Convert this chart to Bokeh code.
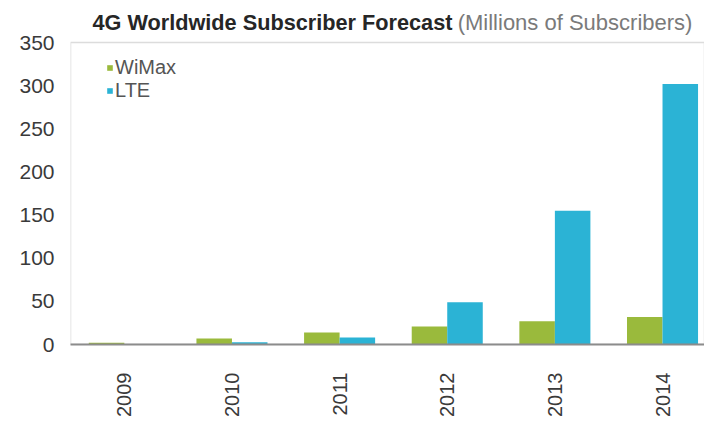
import math
from bokeh.plotting import figure
from bokeh.models import Range1d, FixedTicker, Label, Legend, LegendItem, ColumnDataSource, BoxAnnotation
from bokeh.embed import file_html
from bokeh.resources import INLINE

# ---- data ----
years = ["2009", "2010", "2011", "2012", "2013", "2014"]
wimax = [2, 7, 14, 21, 27, 32]
lte = [0, 2.5, 8, 49, 155, 302]
y_ticks = [0, 50, 100, 150, 200, 250, 300, 350]

title_main = "4G Worldwide Subscriber Forecast"
title_sub = "(Millions of Subscribers)"

GREEN = "#9aba3c"
BLUE = "#2bb3d5"
GRAY = "#8c8c8c"
FONT = "Liberation Sans"

idx = list(range(len(years)))
bw = 0.33
src = ColumnDataSource(dict(
    x_w=[i - bw / 2 for i in idx],
    x_l=[i + bw / 2 for i in idx],
    wimax=wimax,
    lte=lte,
))

Y_MAX = y_ticks[-1]
Y_TOP = 398.7   # room above the plot box for the title

p = figure(width=704, height=421, output_backend="svg", toolbar_location=None,
           x_range=Range1d(-0.5, 5.39), y_range=Range1d(0, Y_TOP),
           min_border_left=70, min_border_right=0, min_border_top=0, min_border_bottom=77)
p.background_fill_color = "white"
p.border_fill_color = "white"
p.outline_line_color = None
p.xgrid.visible = False
p.ygrid.visible = False

# plot box (left, top, bottom edges)
box = BoxAnnotation(left=-0.5, bottom=0, top=Y_MAX, fill_alpha=0,
                    line_color=GRAY, line_width=1.5)
p.add_layout(box)

r_w = p.vbar(x="x_w", top="wimax", width=bw, source=src, fill_color=GREEN, line_color=None)
r_l = p.vbar(x="x_l", top="lte", width=bw, source=src, fill_color=BLUE, line_color=None)

# axes
p.yaxis.ticker = FixedTicker(ticks=y_ticks)
p.yaxis.major_tick_line_color = None
p.yaxis.minor_tick_line_color = None
p.yaxis.axis_line_color = None
p.yaxis.major_label_text_font = FONT
p.yaxis.major_label_text_font_size = "21px"
p.yaxis.major_label_text_color = "#3a3a3a"
p.yaxis.major_label_standoff = 10

p.xaxis.ticker = FixedTicker(ticks=idx)
p.xaxis.major_label_overrides = {i: y for i, y in zip(idx, years)}
p.xaxis.major_tick_line_color = None
p.xaxis.minor_tick_line_color = None
p.xaxis.axis_line_color = GRAY
p.xaxis.axis_line_width = 2
p.xaxis.major_label_orientation = math.pi / 2
p.xaxis.major_label_text_font = FONT
p.xaxis.major_label_text_font_size = "20px"
p.xaxis.major_label_text_color = "#3a3a3a"
p.xaxis.major_label_standoff = 22

# legend
legend = Legend(items=[LegendItem(label="WiMax", renderers=[r_w]),
                       LegendItem(label="LTE", renderers=[r_l])],
                orientation="vertical")
legend.glyph_width = 7
legend.glyph_height = 7
legend.label_text_font = FONT
legend.label_text_font_size = "20px"
legend.label_text_color = "#555555"
legend.label_height = 14
legend.label_standoff = 2
legend.spacing = -5
legend.padding = 0
legend.margin = 0
legend.border_line_color = None
legend.background_fill_alpha = 0
legend.location = (36, 242)
p.add_layout(legend)

# title in two styles
t1 = Label(x=-0.296, y=373, text=title_main, text_font=FONT,
           text_font_style="bold", text_font_size="21.7px", text_color="#262626",
           text_baseline="middle", text_align="left")
t2 = Label(x=3.097, y=373, text=title_sub, text_font=FONT,
           text_font_size="22px", text_color="#7a7a7a", text_baseline="middle", text_align="left")
p.add_layout(t1)
p.add_layout(t2)

open("out.html", "w").write(file_html(p, INLINE))
